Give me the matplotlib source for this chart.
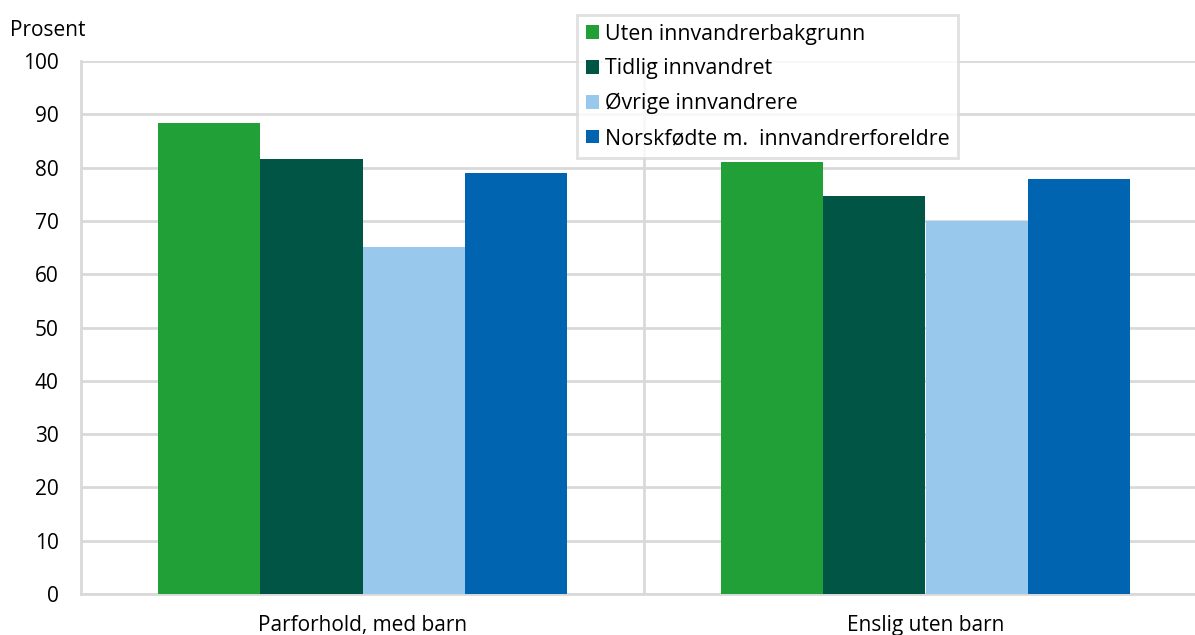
import matplotlib
matplotlib.use("Agg")
import matplotlib.pyplot as plt
import numpy as np

# Data
kategorier = ["Parforhold, med barn", "Enslig uten barn"]
serier = ["Uten innvandrerbakgrunn", "Tidlig innvandret",
          "Øvrige innvandrere", "Norskfødte m.  innvandrerforeldre"]
uten_bakgrunn = [88.3, 81.1]
tidlig_innvandret = [81.6, 74.6]
ovrige_innvandrere = [65.1, 69.9]
norskfodte = [79.0, 77.8]
yticks = list(range(0, 101, 10))

farger = ["#21a038", "#005545", "#98c8ec", "#0064b0"]
grid_farge = "#d9d9d9"
fs = 15

plt.rcParams['font.family'] = ['Open Sans', 'DejaVu Sans']

fig = plt.figure(figsize=(11.95, 6.35), dpi=100)
ax = fig.add_axes([81 / 1195, 41 / 635, 1126 / 1195, 533 / 635])

x = np.arange(len(kategorier))
bredde = 0.727 / 4
verdier = [uten_bakgrunn, tidlig_innvandret, ovrige_innvandrere, norskfodte]
for i, (navn, v) in enumerate(zip(serier, verdier)):
    ax.bar(x + (i - 1.5) * bredde, v, bredde, color=farger[i], label=navn, zorder=3)

ax.set_xlim(-0.5, 1.5)
ax.set_ylim(0, 100)
ax.set_yticks(yticks)
ax.set_xticks(x)
ax.set_xticklabels(kategorier)
ax.tick_params(axis='both', length=0, labelsize=fs, colors="#000000")
ax.tick_params(axis='y', pad=16)
ax.tick_params(axis='x', pad=15)

ax.grid(axis='y', color=grid_farge, linewidth=2, zorder=0)
ax.axvline(0.5, color=grid_farge, linewidth=2, zorder=0)
for side in ["top", "right"]:
    ax.spines[side].set_visible(False)
for side in ["left", "bottom"]:
    ax.spines[side].set_color(grid_farge)
    ax.spines[side].set_linewidth(2)

fig.text(10 / 1195, 1 - 31 / 635, "Prosent", fontsize=fs, va='center')

leg = ax.legend(loc='upper left', bbox_to_anchor=(577 / 1195, 1 - 15 / 635),
                bbox_transform=fig.transFigure, fontsize=15.4, frameon=True,
                fancybox=False, handlelength=0.62, handleheight=0.62,
                handletextpad=0.3, labelspacing=0.64, borderpad=0.4,
                borderaxespad=0)
leg.get_frame().set_edgecolor(grid_farge)
leg.get_frame().set_linewidth(2)
leg.set_zorder(5)

fig.savefig("out.png", dpi=100)
plt.close()
